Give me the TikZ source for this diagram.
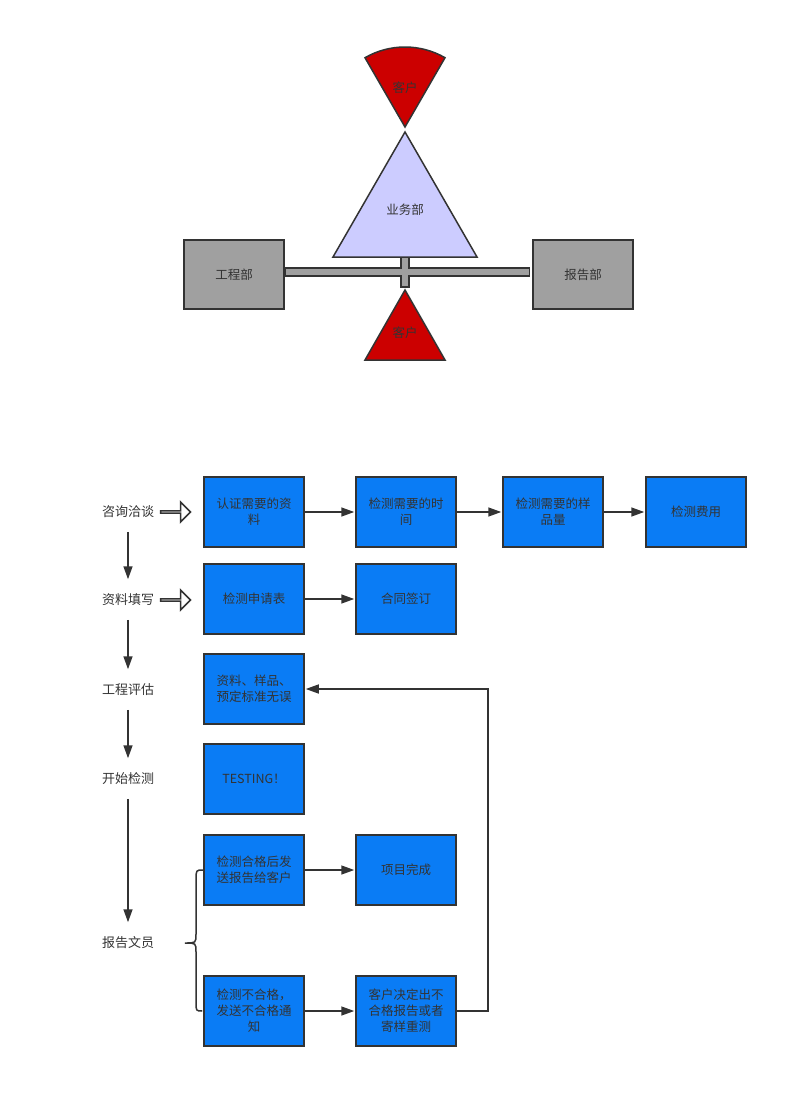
\documentclass[tikz,border=0pt]{standalone}
\usepackage{fontspec}
\setmainfont{Noto Sans CJK SC}
\usepackage{tikz}
\usetikzlibrary{arrows.meta, shapes.arrows, positioning}
\usetikzlibrary{calc}

\definecolor{boxblue}{HTML}{0A7CF5}
\definecolor{linegray}{HTML}{333333}
\definecolor{deptgray}{HTML}{A0A0A0}
\definecolor{custred}{HTML}{CC0000}
\definecolor{salespurple}{HTML}{CCCCFF}

\begin{document}
\begin{tikzpicture}[x=1pt,y=-1pt]
        \useasboundingbox (0,0) rectangle (808,1108);
        \begin{scope}[line width=1.5pt,draw=linegray,every node/.style={font=\fontsize{12.5}{16}\selectfont,text=linegray}, dept/.style={rectangle,fill=deptgray,draw=linegray,minimum width=100pt,minimum height=69pt}]
        % bars between the departments
        \filldraw[fill=deptgray] (401,257) rectangle (409,287);
        \node[dept] (eng) at (234,274.5) {工程部};
        \node[dept] (rep) at (583,274.5) {报告部};
        \filldraw[fill=deptgray] ($(eng.east)+(0,-6.5)$) rectangle ($(rep.west)+(-3,1.5)$);
        \fill[deptgray] ($(eng.east)+(0.8,-5.7)$) rectangle ($(rep.west)+(-3.8,0.7)$);
        \fill[deptgray] (401.8,257.8) rectangle (408.2,286.2);
        % customers and sales
        \filldraw[fill=custred] (405,127) -- +(240:80) arc[start angle=240,end angle=300,radius=80] -- cycle;
        \node (cust1) at (405,88) {客户};
        \filldraw[fill=salespurple] (405,132) -- (477,257) -- (333,257) -- cycle;
        \node (sales) at (405,210) {业务部};
        \filldraw[fill=custred] (405,290) -- (445,360) -- (365,360) -- cycle;
        \node (cust2) at (405,333) {客户};
        \end{scope}

        \begin{scope}[line width=1.5pt,draw=linegray,>={Triangle[length=13pt,width=9pt]},shorten >=1pt,
            every node/.style={font=\fontsize{12.5}{16}\selectfont,text=linegray},
            proc/.style={rectangle,fill=boxblue,draw=linegray,minimum width=100pt,minimum height=70pt,align=center,inner sep=2pt},
            stage/.style={font=\fontsize{13}{16}\selectfont,minimum height=38pt,inner sep=0pt},
            hollow/.style={single arrow,draw=linegray,fill=white,minimum height=30pt,minimum width=20pt,single arrow head extend=6pt,single arrow head indent=0pt,inner sep=0pt}]
        % stages on the left
        \node[stage] (ask) at (128,512) {咨询洽谈};
        \node[stage] (fill) at (128,600) {资料填写};
        \node[stage] (eval) at (128,690) {工程评估};
        \node[stage] (test) at (128,779) {开始检测};
        \node[stage] (clerk) at (128,943) {报告文员};
        \node[hollow,right=5pt of ask] (h1) {};
        \node[hollow,right=5pt of fill] (h2) {};

        % process boxes
        \node[proc] (a1) at (254,512) {认证需要的资\\料};
        \node[proc] (a2) at (406,512) {检测需要的时\\间};
        \node[proc] (a3) at (553,512) {检测需要的样\\品量};
        \node[proc] (a4) at (696,512) {检测费用};
        \node[proc] (b1) at (254,599) {检测申请表};
        \node[proc] (b2) at (406,599) {合同签订};
        \node[proc] (c1) at (254,689) {资料、样品、\\预定标准无误};
        \node[proc] (d1) at (254,779) {TESTING！};
        \node[proc] (e1) at (254,870) {检测合格后发\\送报告给客户};
        \node[proc] (e2) at (406,870) {项目完成};
        \node[proc] (f1) at (254,1011) {检测不合格，\\发送不合格通\\知};
        \node[proc] (f2) at (406,1011) {客户决定出不\\合格报告或者\\寄样重测};

        \path[->]
        (ask) edge (fill)
        (fill) edge (eval)
        (eval) edge (test)
        (test) edge (clerk)
        (a1) edge (a2)
        (a2) edge (a3)
        (a3) edge (a4)
        (b1) edge (b2)
        (e1) edge (e2)
        (f1) edge (f2);
        \draw[->] (f2.east) -- ++(31,0) |- (c1.east);
        % brace
        \draw (e1.west) .. controls (196,870) .. (196,880) -- (196,934) .. controls (196,943) .. (185,943)
            .. controls (196,943) .. (196,952) -- (196,1002) .. controls (196,1011) .. (f1.west);
        \end{scope}
\end{tikzpicture}
\end{document}
